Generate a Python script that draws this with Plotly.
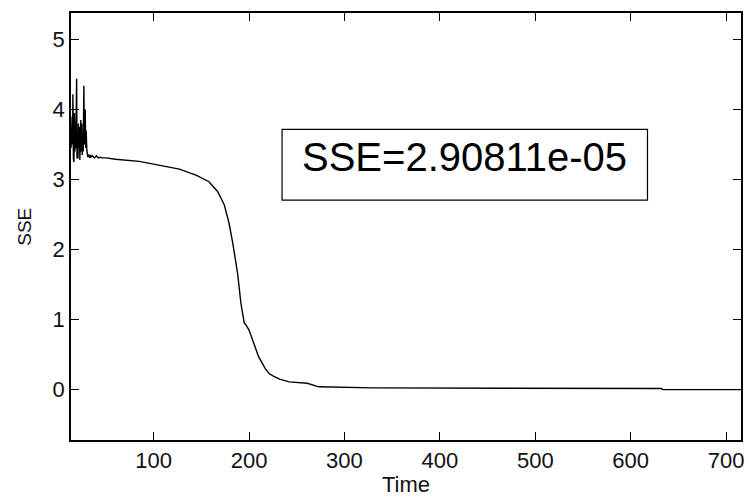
import plotly.graph_objects as go

# Data (Time vs SSE)
time_vals = [13.4, 13.8, 14.2, 14.6, 15.0, 15.4, 15.9, 16.5, 17.0, 17.5, 18.0, 18.4, 19.3, 19.7,
             20.2, 20.7, 21.2, 21.7, 22.2, 22.7, 23.2, 23.7, 24.2, 24.7, 25.2, 25.7, 26.2, 26.9,
             27.4, 28.3, 28.8, 29.3, 30.0, 31.0, 32.0, 33.0, 34.0, 35.0, 36.0, 38.0, 40.0, 42.0,
             44.0, 46.0, 50.0, 55.0, 60.0, 85.0, 106.0, 127.0, 145.0, 158.0, 167.0, 174.0, 179.0,
             183.0, 188.0, 191.5, 195.0, 196.5, 200.0, 205.0, 210.0, 217.0, 221.0, 226.0, 232.0,
             242.0, 261.0, 273.0, 330.0, 632.0, 634.0, 716.0]
sse_vals = [3.45, 3.85, 3.5, 3.9, 3.5, 4.22, 3.3, 3.25, 3.95, 3.4, 3.75, 3.45, 4.44, 3.3,
            3.6, 3.3, 3.8, 3.45, 3.75, 3.28, 3.5, 3.85, 3.4, 3.8, 3.35, 3.6, 3.4, 4.34,
            3.5, 4.0, 3.45, 3.7, 3.42, 3.32, 3.36, 3.31, 3.35, 3.32, 3.34, 3.31, 3.34, 3.31,
            3.32, 3.31, 3.31, 3.30, 3.29, 3.26, 3.21, 3.15, 3.06, 2.97, 2.83, 2.64, 2.38,
            2.09, 1.66, 1.23, 0.95, 0.93, 0.85, 0.66, 0.47, 0.30, 0.23, 0.19, 0.15,
            0.11, 0.09, 0.04, 0.025, 0.015, 0.0, 0.0]

x_ticks = [100, 200, 300, 400, 500, 600, 700]
y_ticks = [0, 1, 2, 3, 4, 5]
x_range = [13.4, 715.6]
y_range = [-0.72, 5.38]
label_text = "SSE=2.90811e-05"
box_x = [234.6, 617.6]
box_y = [2.707, 3.717]

FONT = "Liberation Sans, Arial, sans-serif"

fig = go.Figure()
fig.add_trace(go.Scatter(x=time_vals, y=sse_vals, mode="lines",
                         line=dict(color="black", width=1.4), showlegend=False))

axis_common = dict(showline=True, linecolor="black", linewidth=1.5, mirror="ticks",
                   ticks="inside", ticklen=8, tickwidth=1, tickcolor="black",
                   showgrid=False, zeroline=False,
                   tickfont=dict(family=FONT, size=22, color="#111"))
fig.update_xaxes(range=x_range, tickvals=x_ticks, **axis_common)
fig.update_yaxes(range=y_range, tickvals=y_ticks, **axis_common)

fig.add_shape(type="rect", xref="x", yref="y", x0=box_x[0], x1=box_x[1],
              y0=box_y[0], y1=box_y[1], line=dict(color="black", width=1.2),
              fillcolor="white", layer="above")
fig.add_annotation(x=(box_x[0] + box_x[1]) / 2, y=3.326, xref="x", yref="y",
                   text=label_text, showarrow=False,
                   font=dict(family=FONT, size=40, color="black"))

fig.add_annotation(x=0.5, y=-0.105, xref="paper", yref="paper", text="Time",
                   xanchor="center", yanchor="middle",
                   showarrow=False, font=dict(family=FONT, size=22, color="#111"))
fig.add_annotation(x=-0.0698, y=0.5, xref="paper", yref="paper", text="SSE",
                   xanchor="center", yanchor="middle",
                   textangle=-90, showarrow=False,
                   font=dict(family=FONT, size=19, color="#111"))

fig.update_layout(width=749, height=497,
                  margin=dict(l=71, r=5, t=13, b=57),
                  paper_bgcolor="white", plot_bgcolor="white")

fig.write_html("out.html")
